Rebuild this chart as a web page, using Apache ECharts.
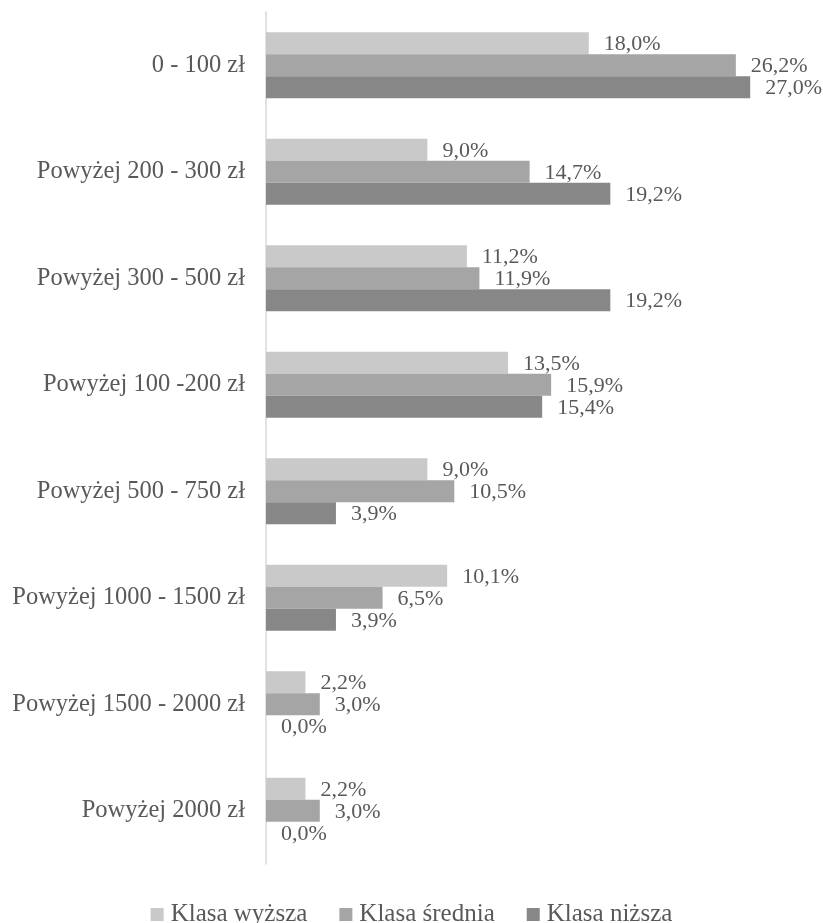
<!DOCTYPE html>
<html>
<head>
<meta charset="utf-8">
<script src="https://cdn.jsdelivr.net/npm/echarts@6/dist/echarts.min.js"></script>
<style>html,body{margin:0;padding:0;background:#fff;}#c{width:823px;height:923px;}</style>
</head>
<body>
<div id="c"></div>
<script>
const categories = ["0 - 100 zł","Powyżej 200 - 300 zł","Powyżej 300 - 500 zł","Powyżej 100 -200 zł","Powyżej 500 - 750 zł","Powyżej 1000 - 1500 zł","Powyżej 1500 - 2000 zł","Powyżej 2000 zł"];
const seriesNames = ["Klasa wyższa","Klasa średnia","Klasa niższa"];
const wyzsza = [18.0, 9.0, 11.2, 13.5, 9.0, 10.1, 2.2, 2.2];
const srednia = [26.2, 14.7, 11.9, 15.9, 10.5, 6.5, 3.0, 3.0];
const nizsza = [27.0, 19.2, 19.2, 15.4, 3.9, 3.9, 0.0, 0.0];
const colors = ["#c9c9c9","#a5a5a5","#878787"];
const font = "'Liberation Serif','Times New Roman',serif";

const chart = echarts.init(document.getElementById('c'));
function mk(name, data, color){
  return {
    name: name, type: 'bar', data: data, barWidth: 22, barGap: '0%',
    itemStyle: {color: color},
    label: {show: true, position: 'right', distance: 15, offset:[0,1],
      formatter: p => p.value.toFixed(1).replace('.', ',') + '%',
      fontFamily: font, fontSize: 22, color: '#595959'}
  };
}
chart.setOption({
  animation: false,
  color: colors,
  grid: {left: 266, top: 12, width: 538, height: 852, containLabel: false},
  xAxis: {type: 'value', min: 0, max: 30, show: false},
  yAxis: {type: 'category', data: categories, inverse: true,
    axisLine: {show: true, lineStyle: {color: '#d9d9d9', width: 1.5}},
    axisTick: {show: false},
    axisLabel: {fontFamily: font, fontSize: 24.5, color: '#595959', margin: 21}},
  legend: {top: 897, left: 'center', itemWidth: 13, itemHeight: 13, itemGap: 32,
    icon: 'rect',
    textStyle: {fontFamily: font, fontSize: 25, color: '#595959', padding: [0,0,0,2]}},
  series: [mk(seriesNames[0], wyzsza, colors[0]), mk(seriesNames[1], srednia, colors[1]), mk(seriesNames[2], nizsza, colors[2])]
});
</script>
</body>
</html>
